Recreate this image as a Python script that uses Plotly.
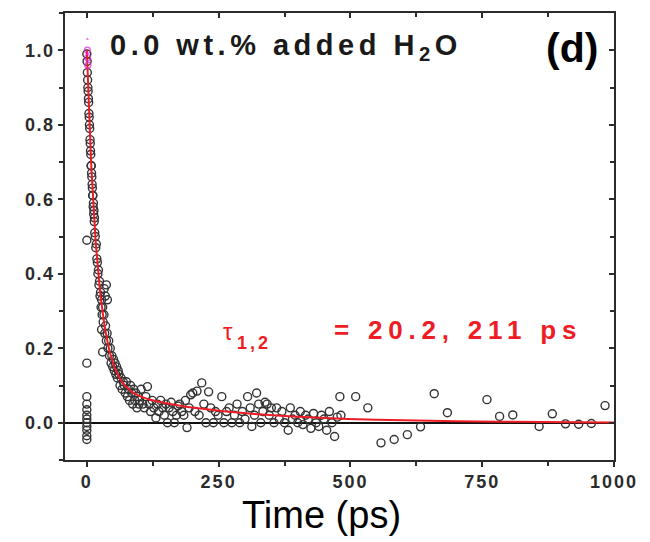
import numpy as np
import plotly.graph_objects as go

# Transient signal (normalised) vs. delay time
time_ps = [
    # points before / at time zero
    0, 0, 0, 0, 0, 0, 0, 0, 0, 0, 0, 0,
    # fast decay
    0, 0.5, 1, 1.5, 2, 2.5, 3, 3.5, 4, 4.5, 5, 5.5, 6, 6.5, 7, 7.5, 8, 8.5, 9, 9.5,
    10, 10.5, 11, 11.5, 12, 12.5, 13, 13.5, 14, 14.5, 15, 16, 17, 18, 19, 20,
    21, 22, 23, 24, 25, 26, 27, 28, 29, 30,
    31, 32.5, 34, 35.5, 37, 38.5, 40, 41.5, 43, 44.5, 46, 47.5, 49, 50.5, 52, 53.5,
    55, 56.5, 58, 59.5, 33, 35, 37, 39, 30, 28,
    61, 63, 65, 67, 69, 71, 73, 75, 77, 79, 81, 83, 85, 87, 89, 91, 93, 95, 97, 99,
    # slow tail
    100, 103, 106, 109, 112, 115, 118, 121, 124, 127, 131, 134, 137, 140, 144, 147,
    150, 153, 156, 160, 163, 166, 170, 173, 176, 180, 184, 187, 190, 194, 197, 201,
    205, 209, 213, 218, 222, 226, 231, 235, 240, 244, 249, 256, 260, 265,
    270, 275, 280, 285, 290, 295, 300, 305, 310, 313, 318, 322, 326, 330, 334, 338,
    342, 346, 350, 355, 360, 365, 370, 375, 382, 386, 390, 395, 400, 405, 410, 415,
    420, 425, 430, 435, 440, 445, 450, 455, 460, 465, 470, 475, 480, 482,
    510, 533, 558, 583, 608, 633, 659, 684, 759, 783, 808, 858, 883, 908, 933, 957,
    983, 1008,
]
signal = [
    0.16, 0.07, 0.05, 0.035, 0.02, 0.01, 0.0, -0.01, -0.02, -0.035, -0.045, 0.49,
    0.99, 0.97, 0.94, 0.92, 0.90, 0.89, 0.87, 0.86, 0.83, 0.82, 0.80, 0.79, 0.76, 0.75,
    0.73, 0.72, 0.69, 0.69, 0.67, 0.66,
    0.64, 0.63, 0.61, 0.61, 0.58, 0.59, 0.56, 0.57, 0.54, 0.55, 0.51, 0.50, 0.47, 0.48,
    0.44, 0.43,
    0.40, 0.41, 0.37, 0.38, 0.34, 0.35, 0.31, 0.33, 0.29, 0.31,
    0.27, 0.29, 0.24, 0.26, 0.22, 0.24, 0.20, 0.22, 0.18, 0.20, 0.16, 0.18, 0.15, 0.17,
    0.14, 0.16,
    0.13, 0.15, 0.12, 0.14, 0.36, 0.34, 0.37, 0.33, 0.19, 0.25,
    0.13, 0.10, 0.12, 0.09, 0.11, 0.10, 0.08, 0.11, 0.07, 0.09, 0.06, 0.10, 0.08, 0.05,
    0.09, 0.06, 0.08, 0.04, 0.07, 0.05,
    0.06, 0.09, 0.05, 0.04, 0.07, 0.097, 0.05, 0.03, 0.06, 0.04, 0.013, 0.05, 0.03,
    0.06, 0.04, 0.02,
    0.05, 0.0, 0.04, 0.055, 0.03, 0.0, 0.02, 0.045, 0.05, 0.03, 0.02, 0.06, -0.013,
    0.04, 0.075, 0.08,
    0.03, 0.085, 0.02, 0.107, 0.05, 0.0, 0.083, 0.04, 0.0, 0.03, 0.02, 0.07, 0.0, 0.03,
    0.04, 0.0, 0.02, 0.05, 0.0, 0.03, 0.01, 0.07, 0.04, -0.01, 0.02, 0.08, 0.05, 0.0,
    0.03, 0.055,
    0.05, 0.02, 0.04, 0.0, 0.04, 0.01, 0.03, 0.0, -0.02, 0.04, 0.01, 0.02, 0.0, 0.03,
    -0.005, 0.02,
    0.01, -0.015, 0.025, 0.0, -0.01, 0.02, 0.01, -0.02, 0.03, 0.0, -0.037, 0.015, 0.07,
    0.02,
    0.07, 0.04, -0.054, -0.045, -0.032, -0.011, 0.078, 0.027, 0.062, 0.017, 0.021,
    -0.01, 0.024, -0.003, -0.004, -0.002,
    0.046, 0.018,
]

# Points at the signal maximum recorded with the second probe
peak_time_ps = [1, 1, 1.5, 2]
peak_signal = [1.03, 1.0, 0.98, 0.96]

# Bi-exponential fit parameters
fit_amp = [0.895, 0.105]
fit_tau = [20.2, 211]

x_ticks = [0, 250, 500, 750, 1000]
y_ticks = [0.0, 0.2, 0.4, 0.6, 0.8, 1.0]

fit_t = np.linspace(0, 1000, 1500)
fit_y = sum(a * np.exp(-fit_t / tau) for a, tau in zip(fit_amp, fit_tau))

RED = "#ee1c25"
INK = "#2b2b2b"
FONT = "Liberation Sans, Arial"


def spaced(s, px=4):
    return f'<span style="letter-spacing:{px}px">{s}</span>'


fig = go.Figure()
fig.add_trace(go.Scatter(
    x=time_ps, y=signal, mode="markers", cliponaxis=False,
    marker=dict(symbol="circle-open", size=8, color="#333333", line=dict(width=1.4)),
    hoverinfo="skip", showlegend=False))
fig.add_trace(go.Scatter(
    x=fit_t, y=fit_y, mode="lines", line=dict(color=RED, width=2),
    hoverinfo="skip", showlegend=False))
fig.add_trace(go.Scatter(
    x=peak_time_ps, y=peak_signal, mode="markers",
    marker=dict(symbol=["triangle-up", "circle-open", "circle-open", "circle-open"],
                size=[5, 6, 6, 6], color="#e020e0", line=dict(width=1.3)),
    hoverinfo="skip", showlegend=False))
# carrier for the mirrored top/right axes
fig.add_trace(go.Scatter(x=[0], y=[0], xaxis="x2", yaxis="y2", mode="markers",
                         marker=dict(opacity=0), hoverinfo="skip", showlegend=False))

xr = [-41.4, 1000]
yr = [-0.1, 1.1]
tickfont = dict(family=FONT, size=18, color=INK, weight="bold")

fig.update_layout(
    width=650, height=542,
    margin=dict(l=65, r=32, t=13, b=82),
    paper_bgcolor="white", plot_bgcolor="white",
    xaxis=dict(range=xr, showgrid=False, zeroline=False,
               showline=True, linecolor=INK, linewidth=1.5,
               ticks="outside", ticklen=5, tickwidth=1.5, tickcolor=INK,
               tickvals=x_ticks, ticktext=[spaced(str(v), 2) for v in x_ticks],
               tickfont=tickfont,
               minor=dict(ticks="outside", ticklen=4, tickwidth=1.5, tickcolor=INK,
                          dtick=125, tick0=0, showgrid=False)),
    yaxis=dict(range=yr, showgrid=False,
               zeroline=True, zerolinecolor="#111111", zerolinewidth=1.5,
               showline=True, linecolor=INK, linewidth=1.5,
               ticks="outside", ticklen=5, tickwidth=1.5, tickcolor=INK,
               tickvals=y_ticks, ticktext=[spaced(f"{v:.1f}", 1.5) for v in y_ticks],
               tickfont=tickfont,
               minor=dict(ticks="outside", ticklen=4, tickwidth=1.5, tickcolor=INK,
                          dtick=0.1, tick0=0, showgrid=False)),
    xaxis2=dict(range=xr, overlaying="x", side="top", anchor="y2", showgrid=False,
                zeroline=False, showline=True, linecolor=INK, linewidth=1.5,
                ticks="inside", ticklen=5, tickwidth=1.5, tickcolor=INK,
                tickvals=x_ticks, showticklabels=False,
                minor=dict(ticks="inside", ticklen=4, tickwidth=1.5, tickcolor=INK,
                           dtick=125, tick0=0, showgrid=False)),
    yaxis2=dict(range=yr, overlaying="y", side="right", anchor="x2", showgrid=False,
                zeroline=False, showline=True, linecolor=INK, linewidth=1.5,
                ticks="inside", ticklen=5, tickwidth=1.5, tickcolor=INK,
                tickvals=y_ticks, showticklabels=False,
                minor=dict(ticks="inside", ticklen=4, tickwidth=1.5, tickcolor=INK,
                           dtick=0.1, tick0=0, showgrid=False)),
)

fig.add_annotation(x=0.468, y=-0.123, xref="paper", yref="paper",
                   xanchor="center", yanchor="middle", showarrow=False,
                   text="Time (ps)",
                   font=dict(family=FONT, size=38, color="black"))
fig.add_annotation(x=378, y=1.01, xanchor="center", yanchor="middle", showarrow=False,
                   text=spaced("0.0 wt.% added H<sub>2</sub>O", 4.5),
                   font=dict(family=FONT, size=29, color="#1a1a1a", weight="bold"))
fig.add_annotation(x=920, y=1.005, xanchor="center", yanchor="middle", showarrow=False,
                   text="(d)",
                   font=dict(family=FONT, size=41, color="black", weight="bold"))
fig.add_annotation(x=267, y=0.244, xanchor="center", yanchor="middle", showarrow=False,
                   text="τ",
                   font=dict(family=FONT, size=24, color=RED))
fig.add_annotation(x=318, y=0.215, xanchor="center", yanchor="middle", showarrow=False,
                   text=spaced("1,2", 3),
                   font=dict(family=FONT, size=18, color=RED, weight="bold"))
fig.add_annotation(x=705, y=0.249, xanchor="center", yanchor="middle", showarrow=False,
                   text=spaced(f"= {fit_tau[0]}, {fit_tau[1]} ps", 5.8),
                   font=dict(family=FONT, size=26, color=RED, weight="bold"))

fig.write_html("out.html")
